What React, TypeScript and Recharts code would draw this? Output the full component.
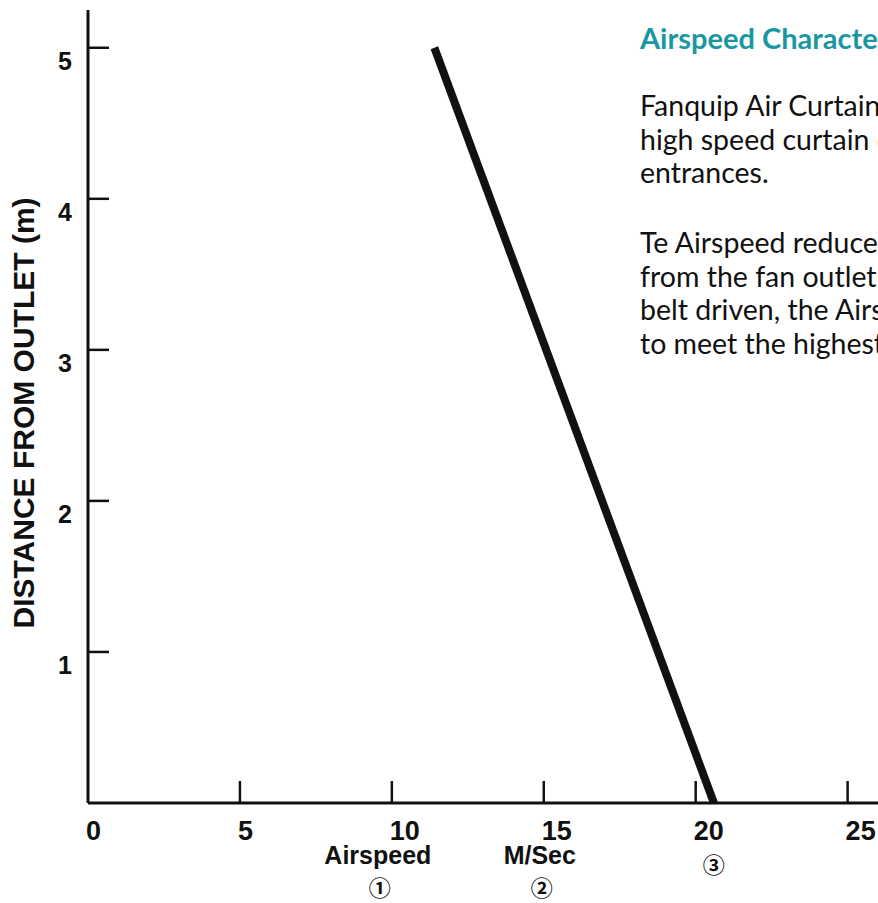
import { LineChart, Line, XAxis, YAxis } from 'recharts';

// airspeed (m/s) against distance from the fan outlet (m)
const airspeed = [11.4, 20.6];
const distance = [5, 0];

const xTicks = [0, 5, 10, 15, 20, 25];
const yTicks = [1, 2, 3, 4, 5];

const xNotes = [
  { at: 10, word: 'Airspeed', mark: '①' },
  { at: 15, word: 'M/Sec', mark: '②' },
  { at: 20, word: '', mark: '③' },
];

const heading = 'Airspeed Characteristics';
const introLines = ['Fanquip Air Curtains provide a', 'high speed curtain of air across', 'entrances.'];
const detailLines = [
  'Te Airspeed reduces with distance',
  'from the fan outlet as shown. As all units are',
  'belt driven, the Airspeed can be adjusted',
  'to meet the highest requirements.',
];

const data = airspeed.map((s, i) => ({ speed: s, dist: distance[i] }));

const INK = '#111';
const AXIS_FONT = '"Liberation Sans", Arial, Helvetica, sans-serif';
const MARK_FONT = '"Noto Sans CJK JP", "DejaVu Sans", sans-serif';

const XTick = (props: any) => {
  const { x, y, payload } = props;
  const v = payload.value;
  const note = xNotes.find(n => n.at === v);
  return (
    <g>
      {v > 0 && <line x1={x} y1={y} x2={x} y2={y - 22} stroke={INK} strokeWidth={2.5} />}
      <text x={x - 2} y={y + 37} textAnchor="start" fontSize={27} fontWeight={700} fill={INK} fontFamily={AXIS_FONT}>
        {v}
      </text>
      {note && note.word && (
        <text
          x={x + (v === 15 ? -4 : -14)}
          y={y + 61}
          textAnchor="middle"
          fontSize={25}
          fontWeight={700}
          fill={INK}
          fontFamily={AXIS_FONT}
        >
          {note.word}
        </text>
      )}
      {note && (
        <text
          x={x + (note.word ? (v === 15 ? -2 : -12) : 18)}
          y={y + (note.word ? 93 : 70)}
          textAnchor="middle"
          fontSize={22}
          fontWeight={700}
          fill={INK}
          fontFamily={MARK_FONT}
        >
          {note.mark}
        </text>
      )}
    </g>
  );
};

const YTick = (props: any) => {
  const { x, y, payload } = props;
  return (
    <g>
      <line x1={x} y1={y} x2={x + 21} y2={y} stroke={INK} strokeWidth={2.5} />
      <text x={x - 16} y={y + 22} textAnchor="end" fontSize={25} fontWeight={700} fill={INK} fontFamily={AXIS_FONT}>
        {payload.value}
      </text>
    </g>
  );
};

export default function App() {
  return (
    <div
      style={{
        position: 'absolute',
        left: 0,
        top: 0,
        width: 878,
        height: 903,
        overflow: 'hidden',
        background: '#fff',
      }}
    >
      <LineChart width={878} height={903} data={data} margin={{ top: 10, right: 0, left: 0, bottom: 0 }}>
        <XAxis
          dataKey="speed"
          type="number"
          domain={[0, 26]}
          ticks={xTicks}
          interval={0}
          height={100}
          tickSize={0}
          tickMargin={0}
          tickLine={false}
          axisLine={{ stroke: INK, strokeWidth: 3 }}
          tick={<XTick />}
        />
        <YAxis
          dataKey="dist"
          type="number"
          domain={[0, 5.25]}
          ticks={yTicks}
          interval={0}
          width={88}
          tickSize={0}
          tickMargin={0}
          tickLine={false}
          axisLine={{ stroke: INK, strokeWidth: 3 }}
          tick={<YTick />}
          label={{
            content: () => (
              <text
                transform="translate(34,413) rotate(-90)"
                textAnchor="middle"
                fontSize={30}
                fontWeight={700}
                fill={INK}
                fontFamily={AXIS_FONT}
              >
                DISTANCE FROM OUTLET (m)
              </text>
            ),
          }}
        />
        <Line
          type="linear"
          dataKey="dist"
          stroke={INK}
          strokeWidth={8}
          dot={false}
          activeDot={false}
          isAnimationActive={false}
        />
      </LineChart>

      <div
        style={{
          position: 'absolute',
          left: 640,
          top: 0,
          width: 600,
          fontFamily: 'Lato, "Open Sans", sans-serif',
          whiteSpace: 'nowrap',
          color: '#111',
        }}
      >
        <div
          style={{
            position: 'absolute',
            top: 21,
            fontSize: 29,
            lineHeight: '33px',
            fontWeight: 700,
            color: '#1a98a2',
          }}
        >
          {heading}
        </div>
        <div style={{ position: 'absolute', top: 89, fontSize: 28.5, lineHeight: '33.5px' }}>
          {introLines.map(l => (
            <div key={l}>{l}</div>
          ))}
          <div style={{ marginTop: 36.5 }}>
            {detailLines.map(l => (
              <div key={l}>{l}</div>
            ))}
          </div>
        </div>
      </div>
    </div>
  );
}
